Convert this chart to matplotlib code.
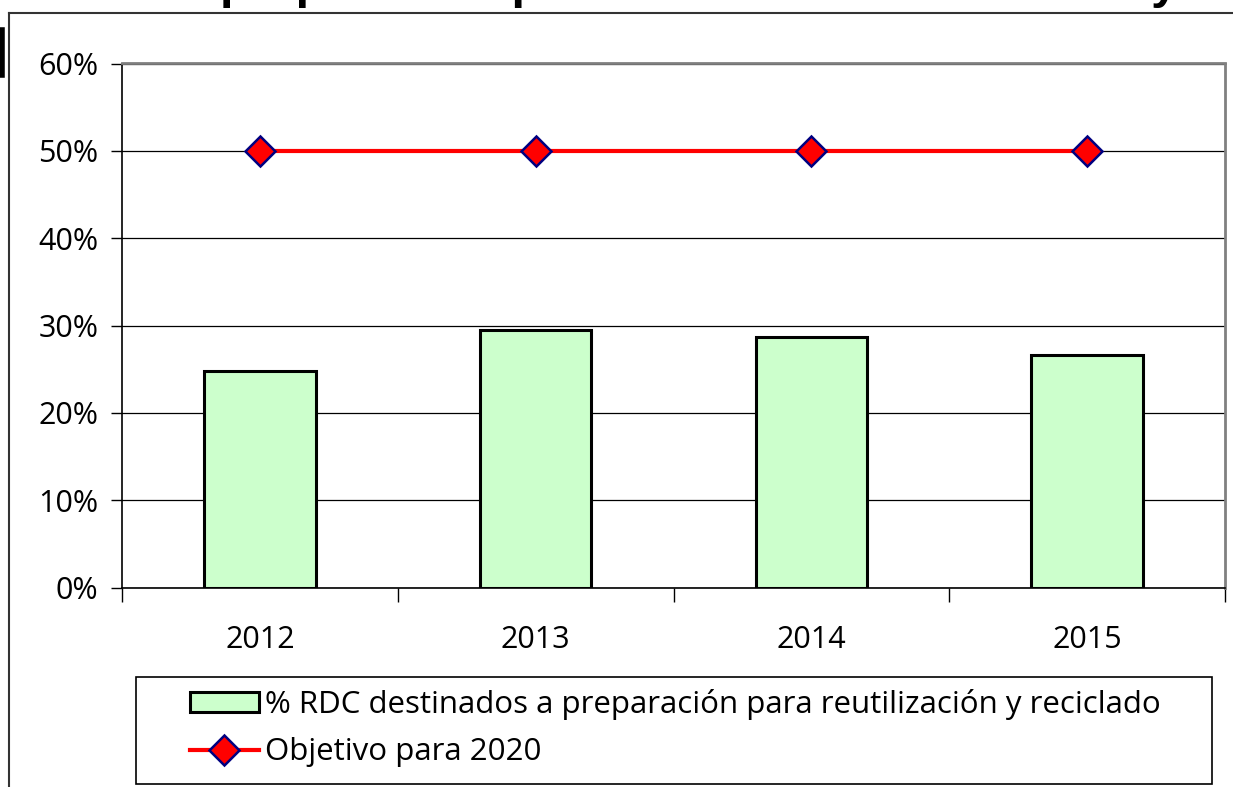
import numpy as np
import matplotlib
matplotlib.use("Agg")
import matplotlib.pyplot as plt
from matplotlib.lines import Line2D
from matplotlib.patches import Rectangle
from matplotlib.ticker import PercentFormatter

#---------------------------------------------------------------------------------------------------------------------------#
# data

years = ["2012", "2013", "2014", "2015"]
rdc_pct = [24.8, 29.5, 28.7, 26.6]
objetivo_pct = [50, 50, 50, 50]
y_ticks = [0, 10, 20, 30, 40, 50, 60]

bar_label = "% RDC destinados a preparación para reutilización y reciclado"
line_label = "Objetivo para 2020"
title_head = "% RDC destinados a "
title_tail = "preparación para reutilización reciclado y valorización"

#---------------------------------------------------------------------------------------------------------------------------#

plt.rcParams["font.family"] = ["Open Sans", "DejaVu Sans"]
W, H = 1233, 787
fs = 22
fig = plt.figure(figsize=(W / 100, H / 100), dpi=100)

ax = fig.add_axes([122 / W, 1 - 587.5 / H, (1225 - 122) / W, (587.5 - 63.5) / H])
x = np.arange(len(years))

ax.set_axisbelow(True)
ax.yaxis.grid(True, color="black", linewidth=0.9)
bars = ax.bar(x, rdc_pct, width=0.405, color="#CCFFCC", edgecolor="black", linewidth=2.2,
              label=bar_label, zorder=2)
line, = ax.plot(x, objetivo_pct, color="red", linewidth=3, marker="D", markersize=15,
                markerfacecolor="red", markeredgecolor="#000080", markeredgewidth=1.8,
                label=line_label, zorder=3)

ax.set_xlim(-0.5, len(years) - 0.5)
ax.set_ylim(0, 60)
ax.set_yticks(y_ticks)
ax.yaxis.set_major_formatter(PercentFormatter(decimals=0))
ax.set_xticks(np.arange(len(years) + 1) - 0.5)
ax.set_xticklabels([])
ax.set_xticks(x, minor=True)
ax.set_xticklabels(years, minor=True)
ax.tick_params(axis="x", which="major", direction="out", length=10, width=1, color="black")
ax.tick_params(axis="x", which="minor", length=0, pad=27, labelsize=fs)
ax.tick_params(axis="y", direction="out", length=8, width=1, pad=9, labelsize=fs)

for side in ["top", "right"]:
    ax.spines[side].set_color("#808080")
    ax.spines[side].set_linewidth(2)
for side in ["left", "bottom"]:
    ax.spines[side].set_color("black")
    ax.spines[side].set_linewidth(1.2)

# legend frame drawn on its own, the entries sit well inside it
fig.add_artist(Rectangle((136 / W, 1 - 784 / H), (1212 - 136) / W, (784 - 677) / H,
                         transform=fig.transFigure, facecolor="white", edgecolor="black",
                         linewidth=1.2))
leg = fig.legend(handles=[bars, line], loc="center left",
                 bbox_to_anchor=(190 / W, 1 - 728 / H), fontsize=22.5, frameon=False,
                 borderpad=0, labelspacing=0.55, handlelength=2.2, handleheight=0.6,
                 handletextpad=0.2, borderaxespad=0)

# title of the original slide, almost all of it cut off above the picture
fig.text(220 / W, 1 + 2 / H, title_head, ha="right", va="baseline",
         fontsize=35, fontweight="bold", family="Liberation Sans")
fig.text(220 / W, 1 + 2 / H, title_tail, ha="left", va="baseline",
         fontsize=35, fontweight="bold", family="Liberation Sans")

# outer frame bits of the slide
fig.add_artist(Line2D([9 / W, 1], [1 - 13 / H, 1 - 13 / H], color="#333333", linewidth=1.5))
fig.add_artist(Line2D([9 / W, 9 / W], [0, 1 - 13 / H], color="#333333", linewidth=1.5))
fig.add_artist(Line2D([2 / W, 2 / W], [1 - 30 / H, 1 - 75 / H], color="black", linewidth=4))

fig.savefig("out.png", dpi=100)
